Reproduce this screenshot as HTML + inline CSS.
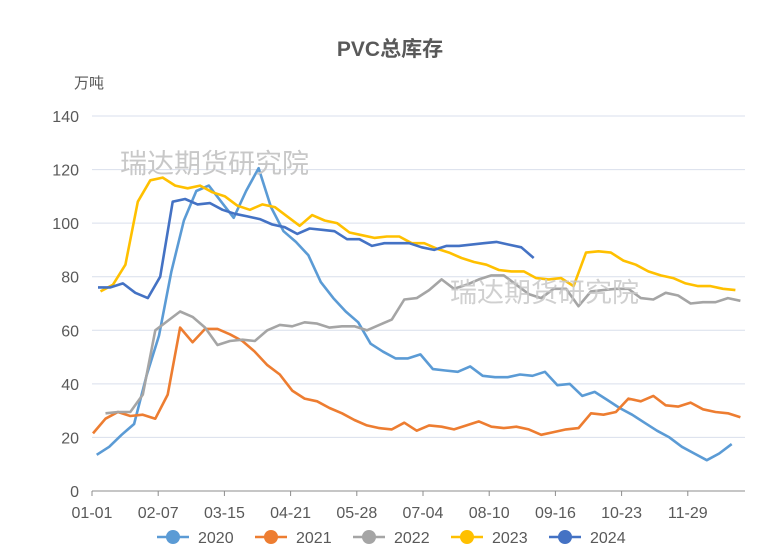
<!DOCTYPE html>
<html><head><meta charset="utf-8"><style>
body{margin:0;background:#fff;font-family:"Liberation Sans","Noto Sans CJK SC",sans-serif}
svg text{font-family:"Liberation Sans","Noto Sans CJK SC",sans-serif}
</style></head><body>
<svg id="c" width="780" height="555">
<text x="390" y="56" text-anchor="middle" font-size="21" font-weight="bold" fill="#595959">PVC总库存</text>
<text x="74" y="88" font-size="15" fill="#595959">万吨</text>
<g id="grid"></g><g id="lines"></g>
<text x="120" y="173" font-size="27" fill="#c8c8c8">瑞达期货研究院</text>
<text x="450" y="302" font-size="27" fill="#c8c8c8" fill-opacity="0.85">瑞达期货研究院</text>
<g id="legend"></g>
</svg>
<script>
const yTicks=[0,20,40,60,80,100,120,140];
const xTickLabels=["01-01","02-07","03-15","04-21","05-28","07-04","08-10","09-16","10-23","11-29"];
const seriesNames=["2020","2021","2022","2023","2024"];
const colors=["#5b9bd5","#ed7d31","#a5a5a5","#ffc000","#4472c4"];
const s2020=[13.5,16.5,21,25,43,58,82,101,112,114,108,102,112,120.5,106,97,93,88,78,72,67,63,55,52,49.5,49.5,51,45.5,45,44.5,46.5,43,42.5,42.5,43.5,43,44.5,39.5,40,35.5,37,34,31,28.5,25.5,22.5,20,16.5,14,11.5,14,17.5];
const s2021=[21.5,27,29.5,28,28.5,27,36,61,55.5,60.5,60.5,58.5,56,52,47,43.5,37.5,34.5,33.5,31,29,26.5,24.5,23.5,23,25.5,22.5,24.5,24,23,24.5,26,24,23.5,24,23,21,22,23,23.5,29,28.5,29.5,34.5,33.5,35.5,32,31.5,33,30.5,29.5,29,27.5];
const s2022=[null,29,29.5,29.5,36,60,63.5,67,65,61,54.5,56,56.5,56,60,62,61.5,63,62.5,61,61.5,61.5,60,62,64,71.5,72,75,79,75.5,77,79,80.5,80.5,77,73.5,72,75.5,75.5,69,74.5,75,75.5,75.5,72,71.5,74,73,70,70.5,70.5,72,71];
const s2023=[74.5,77,84.5,108,116,117,114,113,114,111.5,110,106.5,105,107,106,102.5,99,103,101,100,96.5,95.5,94.5,95,95,92.5,92.5,90.5,89,87,85.5,84.5,82.5,82,82,79.5,79,79.5,76.5,89,89.5,89,86,84.5,82,80.5,79.5,77.5,76.5,76.5,75.5,75];
const s2024=[76,76,77.5,74,72,80,108,109,107,107.5,105,103.5,102.5,101.5,99.5,98.5,96,98,97.5,97,94,94,91.5,92.5,92.5,92.5,91,90,91.5,91.5,92,92.5,93,92,91,87];
const series=[s2020,s2021,s2022,s2023,s2024];
const offs=[0.3,0,0,0.6,0.4];
const NS="http://www.w3.org/2000/svg";
const X0=93,STEP=12.45,Y0=491,YK=375/140;
const xs=i=>X0+i*STEP, ys=v=>Y0-v*YK;
function mk(t,a,p){const e=document.createElementNS(NS,t);for(const k in a)e.setAttribute(k,a[k]);p.appendChild(e);return e;}
const grid=document.getElementById('grid');
yTicks.forEach(v=>{
  if(v>0){const l=mk('line',{x1:92,x2:745,y1:ys(v),y2:ys(v),stroke:'#d9dfec','stroke-width':1},grid);
  
  }
  const t=mk('text',{x:79,y:ys(v)+6,'text-anchor':'end','font-size':16,fill:'#595959'},grid);t.textContent=v;
  
  
});
const ax=mk('line',{x1:92,x2:745,y1:Y0,y2:Y0,stroke:'#8c8c8c','stroke-width':1},grid);


xTickLabels.forEach((s,i)=>{
  const x=92+i*66.2;
  mk('line',{x1:x,x2:x,y1:Y0,y2:Y0+5,stroke:'#8c8c8c'},grid);
  const t=mk('text',{x:x,y:518,'text-anchor':'middle','font-size':16,fill:'#595959'},grid);t.textContent=s;
  
  
});
const lines=document.getElementById('lines');
series.forEach((d,k)=>{
  let p='';d.forEach((v,i)=>{if(v==null)return;p+=(p?'L':'M')+xs(i+offs[k]).toFixed(1)+','+ys(v).toFixed(1);});
  const e=mk('path',{d:p,fill:'none',stroke:colors[k],'stroke-width':2.6,'stroke-linejoin':'round'},lines);
  
  
});
const lg=document.getElementById('legend');
seriesNames.forEach((n,k)=>{
  const x=157+k*98;
  const g=mk('g',{},lg);
  
  
  mk('line',{x1:x,x2:x+32,y1:537,y2:537,stroke:colors[k],'stroke-width':2.6},g);
  mk('circle',{cx:x+16,cy:537,r:7,fill:colors[k]},g);
  const t=mk('text',{x:x+41,y:543,'font-size':16,fill:'#595959'},g);t.textContent=n;
});
</script>
</body></html>
